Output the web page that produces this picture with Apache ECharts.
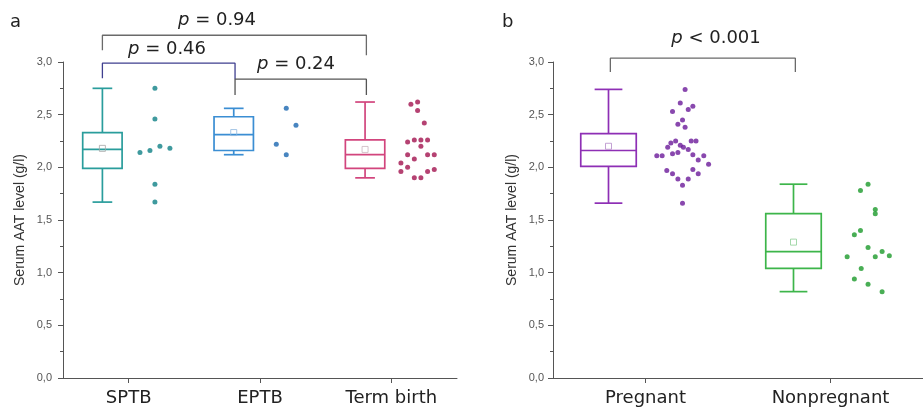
<!DOCTYPE html>
<html>
<head>
<meta charset="utf-8">
<script src="https://cdn.jsdelivr.net/npm/echarts@6/dist/echarts.min.js"></script>
<style>
html,body{margin:0;padding:0;background:#fff;}
#chart{width:923px;height:415px;}
</style>
</head>
<body>
<div id="chart"></div>
<script>
// ---------- data ----------
const categoriesA = ['SPTB', 'EPTB', 'Term birth'];
const categoriesB = ['Pregnant', 'Nonpregnant'];

// box statistics: [min, q1, median, q3, max]
const boxSPTB = [1.67, 1.99, 2.17, 2.33, 2.75];
const boxEPTB = [2.12, 2.16, 2.31, 2.48, 2.56];
const boxTerm = [1.90, 1.99, 2.12, 2.26, 2.62];
const boxPreg = [1.66, 2.01, 2.16, 2.32, 2.74];
const boxNonp = [0.82, 1.04, 1.20, 1.56, 1.84];
const meansA = [2.18, 2.33, 2.17];
const meansB = [2.20, 1.29];

// individual values and their horizontal spread (in category units)
const valSPTB = [2.75, 2.46, 2.14, 2.16, 2.20, 2.18, 1.84, 1.67];
const jitSPTB = [0, 0, -0.114, -0.038, 0.038, 0.114, 0, 0];
const valEPTB = [2.56, 2.40, 2.22, 2.12];
const jitEPTB = [0, 0.074, -0.076, 0];
const valTerm = [2.60, 2.62, 2.54, 2.42, 2.24, 2.26, 2.26, 2.26, 2.20, 2.12, 2.12, 2.12, 2.08, 2.04, 2.00, 1.96, 1.96, 1.98, 1.90, 1.90];
const jitTerm = [-0.051, 0, 0, 0.051, -0.076, -0.025, 0.025, 0.076, 0.025, -0.076, 0.076, 0.127, -0.025, -0.127, -0.076, -0.127, 0.076, 0.127, -0.025, 0.025];
const valPreg = [2.74, 2.61, 2.53, 2.55, 2.58, 2.45, 2.41, 2.38, 2.25, 2.23, 2.19, 2.21, 2.19, 2.17, 2.25, 2.25, 2.11, 2.11, 2.13, 2.14, 2.12, 2.07, 2.11, 2.03, 1.97, 1.94, 1.98, 1.94, 1.89, 1.89, 1.83, 1.66];
const jitPreg = [0.014, -0.012, -0.054, 0.031, 0.056, 0, -0.025, 0.014, -0.037, -0.063, -0.080, -0.012, 0.005, 0.031, 0.047, 0.073, -0.139, -0.110, -0.054, -0.025, 0.056, 0.085, 0.115, 0.141, -0.085, -0.054, 0.056, 0.085, -0.025, 0.031, 0, 0];
const valNonp = [1.84, 1.78, 1.60, 1.56, 1.40, 1.36, 1.24, 1.15, 1.15, 1.20, 1.16, 1.04, 0.94, 0.89, 0.82];
const jitNonp = [0.003, -0.038, 0.042, 0.042, -0.038, -0.071, 0.003, -0.110, 0.042, 0.079, 0.118, -0.034, -0.071, 0.003, 0.079];

// ---------- styling ----------
const BOX_SHIFT = -0.2, DOT_SHIFT = 0.2;
const groups = [
  {grid: 0, idx: 0, box: boxSPTB, mean: meansA[0], vals: valSPTB, jit: jitSPTB, line: '#2a9d9c', dot: '#0f8186', meanColor: '#a8a8a8'},
  {grid: 0, idx: 1, box: boxEPTB, mean: meansA[1], vals: valEPTB, jit: jitEPTB, line: '#3b8ed3', dot: '#1a66b0', meanColor: '#8fb8e0'},
  {grid: 0, idx: 2, box: boxTerm, mean: meansA[2], vals: valTerm, jit: jitTerm, line: '#d2457d', dot: '#a3134f', meanColor: '#c9b4be'},
  {grid: 1, idx: 0, box: boxPreg, mean: meansB[0], vals: valPreg, jit: jitPreg, line: '#8e2fb5', dot: '#6b1a9a', meanColor: '#b48ac8'},
  {grid: 1, idx: 1, box: boxNonp, mean: meansB[1], vals: valNonp, jit: jitNonp, line: '#3db54a', dot: '#1c9a2a', meanColor: '#8fd096'}
];

function boxRenderer(color) {
  return function (params, api) {
    const x = api.value(0) + BOX_SHIFT;
    const mn = api.value(1), q1 = api.value(2), md = api.value(3), q3 = api.value(4), mx = api.value(5);
    const half = 0.15, cap = 0.075;
    const p = (dx, v) => api.coord([x + dx, v]);
    const st = {stroke: color, lineWidth: 1.7, fill: null};
    const tl = p(-half, q3), br = p(half, q1);
    const line = (a, b) => ({type: 'line', shape: {x1: a[0], y1: a[1], x2: b[0], y2: b[1]}, style: st});
    return {
      type: 'group',
      children: [
        {type: 'rect', shape: {x: tl[0], y: tl[1], width: br[0] - tl[0], height: br[1] - tl[1]}, style: st},
        line(p(-half, md), p(half, md)),
        line(p(0, q3), p(0, mx)),
        line(p(0, q1), p(0, mn)),
        line(p(-cap, mx), p(cap, mx)),
        line(p(-cap, mn), p(cap, mn))
      ]
    };
  };
}

const series = [];
groups.forEach(g => {
  const xi = g.grid === 0 ? 1 : 3;
  const yi = g.grid;
  series.push({
    type: 'custom', xAxisIndex: xi, yAxisIndex: yi,
    renderItem: boxRenderer(g.line),
    data: [[g.idx].concat(g.box)],
    encode: {x: 0, y: [1, 2, 3, 4, 5]},
    silent: true, z: 2
  });
  series.push({
    type: 'scatter', xAxisIndex: xi, yAxisIndex: yi,
    data: [[g.idx + BOX_SHIFT, g.mean]],
    symbol: 'rect', symbolSize: 6,
    itemStyle: {color: 'transparent', borderColor: g.meanColor, borderWidth: 1},
    silent: true, z: 3
  });
  series.push({
    type: 'scatter', xAxisIndex: xi, yAxisIndex: yi,
    data: g.vals.map((v, i) => [g.idx + DOT_SHIFT + g.jit[i], v]),
    symbol: 'circle', symbolSize: 5,
    itemStyle: {color: g.dot},
    silent: true, z: 3
  });
});

// significance brackets (data coordinates)
function bracket(xi, yi, pts, color) {
  return {
    type: 'line', xAxisIndex: xi, yAxisIndex: yi, data: pts, clip: false,
    symbol: 'none', silent: true, z: 4,
    lineStyle: {color: color, width: 1.3}
  };
}
series.push(bracket(1, 0, [[-0.2, 3.112], [-0.2, 3.254], [1.81, 3.254], [1.81, 3.065]], '#6a6a6a'));
series.push(bracket(1, 0, [[-0.2, 2.846], [-0.2, 2.989], [0.81, 2.989], [0.81, 2.837]], '#3f3f8f'));
series.push(bracket(1, 0, [[0.81, 2.686], [0.81, 2.837], [1.81, 2.837], [1.81, 2.686]], '#555555'));
series.push(bracket(3, 1, [[-0.19, 2.904], [-0.19, 3.036], [0.81, 3.036], [0.81, 2.904]], '#6a6a6a'));

function yAxis(gridIndex, gap, margin) {
  return {
    type: 'value', gridIndex: gridIndex, min: 0, max: 3, interval: 0.5,
    name: 'Serum AAT level (g/l)', nameLocation: 'middle', nameGap: gap,
    nameTextStyle: {fontFamily: 'Liberation Sans', fontSize: 14, color: '#333'},
    axisLine: {show: true, onZero: false, lineStyle: {color: '#555', width: 1}},
    axisTick: {show: true, length: 5, lineStyle: {color: '#555'}},
    minorTick: {show: true, splitNumber: 2, length: 3, lineStyle: {color: '#555'}},
    splitLine: {show: false},
    axisLabel: {
      fontFamily: 'Liberation Sans', fontSize: 11, color: '#555', margin: margin,
      formatter: v => v.toFixed(1).replace('.', ',')
    }
  };
}
function catAxis(gridIndex, data) {
  return {
    type: 'category', gridIndex: gridIndex, data: data, boundaryGap: true,
    axisLine: {show: true, onZero: false, lineStyle: {color: '#555', width: 1}},
    axisTick: {show: true, alignWithLabel: true, length: 5, lineStyle: {color: '#555'}},
    axisLabel: {fontFamily: 'DejaVu Sans', fontSize: 18, color: '#222', margin: 11},
    splitLine: {show: false}
  };
}
function hiddenX(gridIndex, n) {
  return {type: 'value', gridIndex: gridIndex, min: -0.5, max: n - 0.5, show: false, splitLine: {show: false}};
}

function pText(x, y, rel, val) {
  return {
    type: 'text', x: x, y: y, silent: true,
    style: {
      text: '{i|p} ' + rel + ' ' + val,
      rich: {i: {fontStyle: 'italic', fontFamily: 'DejaVu Sans', fontSize: 18, fill: '#222'}},
      fontFamily: 'DejaVu Sans', fontSize: 18, fill: '#222',
      align: 'center', verticalAlign: 'middle'
    }
  };
}

const option = {
  animation: false,
  backgroundColor: '#fff',
  grid: [
    {left: 63, top: 62, width: 394, bottom: 37},
    {left: 553, top: 62, width: 393, bottom: 37}
  ],
  xAxis: [catAxis(0, categoriesA), hiddenX(0, categoriesA.length), catAxis(1, categoriesB), hiddenX(1, categoriesB.length)],
  yAxis: [yAxis(0, 36, 11), yAxis(1, 34, 9)],
  graphic: [
    {type: 'text', x: 10, y: 22, style: {text: 'a', fontFamily: 'DejaVu Sans', fontSize: 18, fill: '#222', verticalAlign: 'middle'}},
    {type: 'text', x: 502, y: 22, style: {text: 'b', fontFamily: 'DejaVu Sans', fontSize: 18, fill: '#222', verticalAlign: 'middle'}},
    pText(217, 20, '=', '0.94'),
    pText(167, 49, '=', '0.46'),
    pText(296, 64, '=', '0.24'),
    pText(716, 38, '<', '0.001')
  ],
  series: series
};

const chart = echarts.init(document.getElementById('chart'), null, {renderer: 'canvas'});
chart.setOption(option);
</script>
</body>
</html>
